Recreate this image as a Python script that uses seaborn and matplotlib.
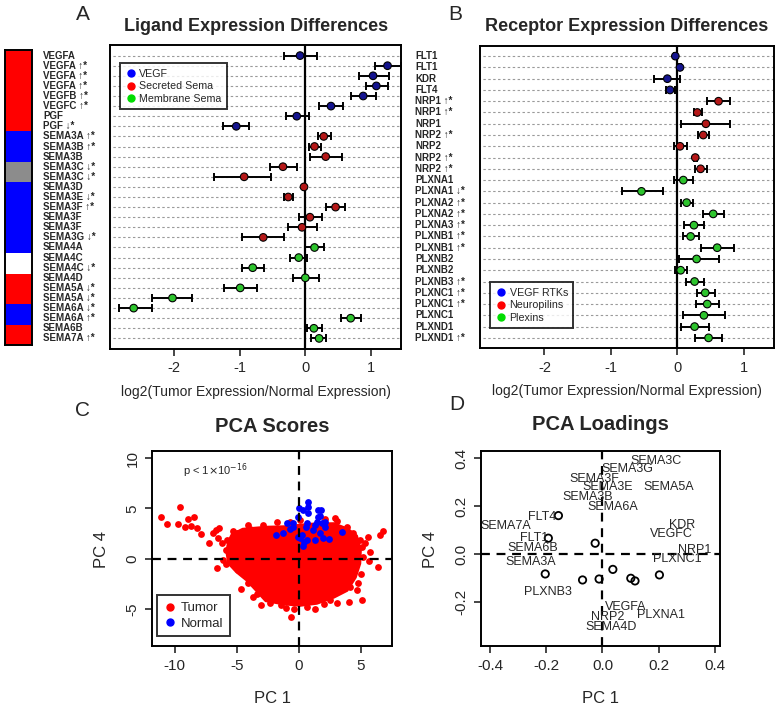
import numpy as np
import pandas as pd
import seaborn as sns
import matplotlib.pyplot as plt
from matplotlib.colors import ListedColormap
from matplotlib.lines import Line2D
import matplotlib.transforms as mtransforms

sns.set_style("white")
plt.rcParams['font.family'] = ['Liberation Sans', 'DejaVu Sans']
plt.rcParams['axes.unicode_minus'] = False

W, H = 780, 706

# ---- panel A: ligands ----
lig_genes = ["VEGFA", "VEGFA", "VEGFA", "VEGFA", "VEGFB", "VEGFC", "PGF", "PGF",
             "SEMA3A", "SEMA3B", "SEMA3B", "SEMA3C", "SEMA3C", "SEMA3D", "SEMA3E",
             "SEMA3F", "SEMA3F", "SEMA3F", "SEMA3G", "SEMA4A", "SEMA4C", "SEMA4C",
             "SEMA4D", "SEMA5A", "SEMA5A", "SEMA6A", "SEMA6A", "SEMA6B", "SEMA7A"]
lig_marks = ["", "↑*", "↑*", "↑*", "↑*", "↑*", "", "↓*",
             "↑*", "↑*", "", "↓*", "↓*", "", "↓*",
             "↑*", "", "", "↓*", "", "", "↓*",
             "", "↓*", "↓*", "↓*", "↑*", "", "↑*"]
lig_mean = [-0.08, 1.25, 1.03, 1.08, 0.88, 0.39, -0.13, -1.05,
            0.28, 0.14, 0.31, -0.34, -0.93, -0.02, -0.26,
            0.46, 0.07, -0.05, -0.64, 0.14, -0.10, -0.80,
            0.00, -0.99, -2.02, -2.61, 0.69, 0.13, 0.21]
lig_lo = [-0.33, 1.06, 0.82, 0.92, 0.70, 0.21, -0.30, -1.25,
          0.19, 0.05, 0.07, -0.53, -1.39, -0.04, -0.33,
          0.32, -0.10, -0.27, -0.96, 0.00, -0.23, -0.96,
          -0.19, -1.24, -2.33, -2.84, 0.55, 0.02, 0.09]
lig_hi = [0.18, 1.45, 1.28, 1.26, 1.07, 0.58, 0.05, -0.85,
          0.39, 0.24, 0.56, -0.12, -0.52, 0.00, -0.19,
          0.60, 0.25, 0.18, -0.33, 0.28, 0.02, -0.63,
          0.21, -0.74, -1.72, -2.33, 0.84, 0.26, 0.32]
lig_group = ["VEGF"] * 8 + ["Secreted Sema"] * 11 + ["Membrane Sema"] * 10
lig_strip = ["up"] * 8 + ["down"] * 3 + ["none"] * 2 + ["down"] * 7 + ["flat"] * 2 + \
            ["up"] * 3 + ["down"] * 2 + ["up"] * 2

# ---- panel B: receptors ----
rec_genes = ["FLT1", "FLT1", "KDR", "FLT4", "NRP1", "NRP1", "NRP1", "NRP2", "NRP2",
             "NRP2", "NRP2", "PLXNA1", "PLXNA1", "PLXNA2", "PLXNA2", "PLXNA3",
             "PLXNB1", "PLXNB1", "PLXNB2", "PLXNB2", "PLXNB3", "PLXNC1", "PLXNC1",
             "PLXNC1", "PLXND1", "PLXND1"]
rec_marks = ["", "", "", "", "↑*", "↑*", "", "↑*", "",
             "↑*", "↑*", "", "↓*", "↑*", "↑*", "↑*",
             "↑*", "↑*", "", "", "↑*", "↑*", "↑*",
             "", "", "↑*"]
rec_mean = [-0.03, 0.04, -0.15, -0.11, 0.62, 0.30, 0.43, 0.39, 0.04,
            0.27, 0.35, 0.09, -0.54, 0.14, 0.54, 0.25,
            0.20, 0.60, 0.29, 0.05, 0.26, 0.42, 0.45,
            0.40, 0.26, 0.47]
rec_lo = [-0.05, 0.02, -0.35, -0.17, 0.45, 0.25, 0.05, 0.31, -0.05,
          0.25, 0.26, -0.05, -0.83, 0.05, 0.38, 0.10,
          0.08, 0.36, 0.02, -0.04, 0.13, 0.29, 0.28,
          0.08, 0.05, 0.27]
rec_hi = [-0.01, 0.06, 0.04, -0.03, 0.80, 0.37, 0.80, 0.48, 0.15,
          0.29, 0.45, 0.23, -0.21, 0.24, 0.70, 0.40,
          0.33, 0.85, 0.63, 0.15, 0.40, 0.56, 0.63,
          0.72, 0.48, 0.67]
rec_group = ["VEGF RTKs"] * 4 + ["Neuropilins"] * 7 + ["Plexins"] * 15

# ---- panel C: PCA scores ----
core_x = [-5.30, -4.49, -2.61, -0.99, 0.89, 2.77, 3.84, 4.55, 4.85, 4.80, 4.45, 3.80,
          2.77, 1.42, 0.08, -1.26, -2.61, -3.35, -4.10, -4.95, -5.55, -5.70, -5.55]
core_y = [2.30, 2.80, 3.00, 3.05, 3.30, 3.35, 2.85, 2.19, 0.86, -0.46, -1.79, -3.05,
          -3.70, -4.30, -4.50, -4.35, -4.05, -3.05, -2.05, -1.20, -0.40, 0.70, 1.69]
tumor_x = [-11.13, -10.59, -9.57, -9.73, -8.92, -8.44, -8.68, -8.17, -9.19, -7.88,
           -7.26, -6.91, -6.51, -6.42, -6.56, -5.89, -5.30, -4.65, -4.09, -2.88,
           -3.41, -3.06, -2.34, -1.45, -0.65, -0.40, 0.62, 1.32, 2.04, 3.09,
           4.03, 5.11, 4.65, 4.78, 4.97, 5.67, 5.73, 6.34, 5.59, 6.53,
           6.75, 4.38, 4.92, 5.11, 3.04, 2.10, 0.08, -1.80,
           -6.64, -6.16, -5.90, -5.56, -6.10, -4.89, -4.09, -3.68, 2.50, 4.11,
           5.19, 5.32, 3.84, -2.88, -0.73, 2.90, -5.00, -5.75, -3.90, -1.00]
tumor_y = [4.17, 3.44, 5.13, 3.41, 3.94, 4.17, 3.21, 3.01, 3.18, 2.42,
           1.56, 2.52, 2.02, 3.05, -0.93, -0.53, 2.78, -3.05, 3.31, 3.31,
           -3.54, -4.60, -4.44, -4.60, -5.76, -5.00, -4.83, -4.97, -4.50, -4.44,
           -4.27, -4.11, -3.11, -2.45, -1.52, -0.20, 0.70, -0.86, 2.19, 2.35,
           2.78, 2.52, 1.85, 1.19, 3.74, 3.97, 3.84, 3.64,
           2.85, 1.52, 0.90, 0.20, -0.10, -1.13, -2.45, -3.77, -4.10, -2.78,
           0.20, 1.52, 3.18, 2.85, 3.68, 4.00, 2.60, 1.90, 2.95, -4.90]
normal_x = [0.75, 0.75, 0.03, 0.30, 1.56, 1.75, -0.05, 0.75, 1.56, 1.69,
            -0.99, -0.46, -0.73, 0.62, 0.56, 1.29, 1.83, 2.10, 1.16, 1.69,
            3.44, -1.85, -1.26, -0.05, 0.22, 0.08, 0.40, 0.62, 1.29, 1.96,
            2.42, 0.30, -0.51, 1.42, 2.10]
normal_y = [5.66, 5.17, 5.00, 4.83, 4.83, 4.83, 4.17, 4.50, 4.17, 4.24,
            3.51, 3.58, 2.91, 3.51, 3.18, 3.34, 3.51, 3.18, 2.85, 2.52,
            2.62, 2.35, 2.52, 2.19, 2.35, 2.02, 1.69, 1.85, 1.85, 2.02,
            1.92, 1.26, 3.18, 3.68, 3.68]

# ---- panel D: PCA loadings ----
load_text = ["SEMA3C", "SEMA3G", "SEMA3F", "SEMA3E", "SEMA5A", "SEMA3B", "SEMA6A", "FLT4",
             "SEMA7A", "KDR", "VEGFC", "FLT1", "SEMA6B", "NRP1", "PLXNC1", "SEMA3A",
             "PLXNB3", "VEGFA", "PLXNA1", "NRP2", "SEMA4D"]
load_tx = [0.190, 0.089, -0.028, 0.018, 0.235, -0.052, 0.036, -0.216,
           -0.346, 0.285, 0.244, -0.245, -0.249, 0.327, 0.267, -0.257,
           -0.194, 0.084, 0.209, 0.018, 0.031]
load_ty = [0.390, 0.354, 0.314, 0.279, 0.282, 0.240, 0.196, 0.157,
           0.118, 0.122, 0.083, 0.069, 0.025, 0.018, -0.021, -0.031,
           -0.156, -0.221, -0.253, -0.260, -0.304]
load_px = [-0.157, -0.193, -0.026, -0.204, -0.071, -0.012, 0.037, 0.101, 0.116, 0.203]
load_py = [0.161, 0.067, 0.046, -0.082, -0.107, -0.103, -0.063, -0.100, -0.111, -0.086]


def px_axes(l, t, r, b):
    return fig.add_axes([l / W, 1 - b / H, (r - l) / W, (b - t) / H])


def ftext(x, y, s, **kw):
    fig.text(x / W, 1 - y / H, s, **kw)


def forest(ax, genes, marks, mean, lo, hi, group, palette, pad, label_x):
    n = len(genes)
    rows = np.arange(1, n + 1)
    ax.hlines(rows, -3.0, 1.5, colors="#9a9a9a", linestyles=(0, (2.2, 2.2)),
              linewidth=0.8, zorder=0)
    ax.axvline(0, color="black", linewidth=1.6, zorder=1)
    mean = np.array(mean)
    ax.errorbar(mean, rows, xerr=[mean - np.array(lo), np.array(hi) - mean], fmt="none",
                ecolor="black", elinewidth=1.4, capsize=2.6, capthick=1.4, zorder=2)
    df = pd.DataFrame({"mean": mean, "row": rows, "group": group})
    sns.scatterplot(data=df, x="mean", y="row", hue="group", palette=palette, s=30,
                    edgecolor="black", linewidth=0.8, legend=False, ax=ax, zorder=3)
    ax.set_xlim(-2.97, 1.455)
    ax.set_ylim(n + pad, 1 - pad)
    ax.set_yticks([])
    ax.set_xticks([-2, -1, 0, 1])
    ax.set_xlabel("log2(Tumor Expression/Normal Expression)", fontsize=10, labelpad=7)
    ax.set_ylabel("")
    ax.tick_params(axis="x", direction="out", length=5, width=1.2, labelsize=10.5,
                   bottom=True, pad=4)
    for sp in ax.spines.values():
        sp.set_linewidth(1.4)
        sp.set_color("black")
    trans = mtransforms.blended_transform_factory(fig.transFigure, ax.transData)
    for r, g, m in zip(rows, genes, marks):
        ax.text(label_x / W, r, g + (" " + m if m else ""), transform=trans,
                fontsize=7, fontweight="bold", ha="left", va="center")


def dot_legend(ax, labels, colors, loc, bbox, fs):
    handles = [Line2D([], [], marker="o", linestyle="", markersize=5, color=c) for c in colors]
    leg = ax.legend(handles, labels, loc=loc, bbox_to_anchor=bbox, fontsize=fs,
                    frameon=True, fancybox=False, handletextpad=0.3, borderpad=0.5,
                    handlelength=1.0, labelspacing=0.25, borderaxespad=0)
    leg.get_frame().set_edgecolor("black")
    leg.get_frame().set_linewidth(1.4)


fig = plt.figure(figsize=(W / 100, H / 100), dpi=100)

# panel A
axA = px_axes(110, 45, 401, 349)
forest(axA, lig_genes, lig_marks, lig_mean, lig_lo, lig_hi, lig_group,
       {"VEGF": "#14148f", "Secreted Sema": "#b51818", "Membrane Sema": "#2dc42d"}, 1.05, 43)
dot_legend(axA, ["VEGF", "Secreted Sema", "Membrane Sema"], ["#0000ff", "#ff0000", "#00dd00"],
           "upper left", (0.035, 0.94), 7.7)

# colour strip next to ligand labels
strip_codes = {"up": 0, "down": 1, "none": 2, "flat": 3}
axS = px_axes(5, 50, 32, 345)
sns.heatmap(np.array([strip_codes[s] for s in lig_strip]).reshape(-1, 1), ax=axS,
            cmap=ListedColormap(["#ff0000", "#0000ff", "#8c8c8c", "#ffffff"]),
            vmin=-0.5, vmax=3.5, cbar=False, xticklabels=False, yticklabels=False)
for sp in axS.spines.values():
    sp.set_visible(True)
    sp.set_linewidth(1.4)
    sp.set_color("black")

# panel B
axB = px_axes(480, 46, 774, 348)
forest(axB, rec_genes, rec_marks, rec_mean, rec_lo, rec_hi, rec_group,
       {"VEGF RTKs": "#14148f", "Neuropilins": "#b51818", "Plexins": "#2dc42d"}, 0.9, 415)
dot_legend(axB, ["VEGF RTKs", "Neuropilins", "Plexins"], ["#0000ff", "#ff0000", "#00dd00"],
           "lower left", (0.035, 0.065), 7.7)

ftext(256, 31, "Ligand Expression Differences", ha="center", fontsize=13, fontweight="bold")
ftext(627, 31, "Receptor Expression Differences", ha="center", fontsize=13, fontweight="bold")
ftext(83, 20, "A", ha="center", fontsize=15)
ftext(455, 20, "B", ha="center", fontsize=15)

# panel C
axC = px_axes(152, 451, 392, 646)
axC.fill(core_x, core_y, color="#ff0000", linewidth=4, edgecolor="#ff0000", zorder=1)
sns.scatterplot(x=tumor_x, y=tumor_y, color="#ff0000", s=24, linewidth=0, ax=axC, zorder=2)
sns.scatterplot(x=normal_x, y=normal_y, color="#0000ff", s=24, linewidth=0, ax=axC, zorder=3)
axC.axhline(0, color="black", linestyle=(0, (4, 3)), linewidth=1.6, zorder=4)
axC.axvline(0, color="black", linestyle=(0, (4, 3)), linewidth=1.6, zorder=4)
axC.set_xlim(-11.83, 7.5)
axC.set_ylim(-8.67, 10.7)
axC.set_xticks([-10, -5, 0, 5])
axC.set_yticks([-5, 0, 5, 10])
axC.text(0.13, 0.9, r"p < 1$\times$10$^{-16}$", transform=axC.transAxes, fontsize=8, va="center")
dot_legend(axC, ["Tumor", "Normal"], ["#ff0000", "#0000ff"], "lower left", (0.02, 0.05), 9.5)

# panel D
axD = px_axes(481, 451, 720, 646)
sns.scatterplot(x=load_px, y=load_py, marker="o", facecolor="none", edgecolor="black",
                s=28, linewidth=1.3, ax=axD, zorder=3)
for t, x, y in zip(load_text, load_tx, load_ty):
    axD.text(x, y, t, ha="center", va="center", fontsize=9, zorder=3)
axD.axhline(0, color="black", linestyle=(0, (4, 3)), linewidth=1.6, zorder=1)
axD.axvline(0, color="black", linestyle=(0, (4, 3)), linewidth=1.6, zorder=1)
axD.set_xlim(-0.433, 0.419)
axD.set_ylim(-0.382, 0.430)
axD.set_xticks([-0.4, -0.2, 0.0, 0.2, 0.4])
axD.set_yticks([-0.2, 0.0, 0.2, 0.4])
axD.set_xticklabels(["-0.4", "-0.2", "0.0", "0.2", "0.4"])
axD.set_yticklabels(["-0.2", "0.0", "0.2", "0.4"])

for ax in (axC, axD):
    ax.tick_params(direction="out", length=5, width=1.2, labelsize=11, left=True,
                   bottom=True, pad=4)
    for lab in ax.get_yticklabels():
        lab.set_rotation(90)
        lab.set_va("center")
    for sp in ax.spines.values():
        sp.set_linewidth(1.4)
        sp.set_color("black")

ftext(272, 432, "PCA Scores", ha="center", fontsize=14.5, fontweight="bold")
ftext(600, 430, "PCA Loadings", ha="center", fontsize=14.5, fontweight="bold")
ftext(272, 703, "PC 1", ha="center", fontsize=12)
ftext(601, 703, "PC 1", ha="center", fontsize=12)
ftext(101, 549, "PC 4", ha="center", va="center", rotation=90, fontsize=12)
ftext(430, 549, "PC 4", ha="center", va="center", rotation=90, fontsize=12)
ftext(83, 416, "C", ha="center", fontsize=15)
ftext(457, 410, "D", ha="center", fontsize=15)

fig.savefig("out.png", dpi=100)
